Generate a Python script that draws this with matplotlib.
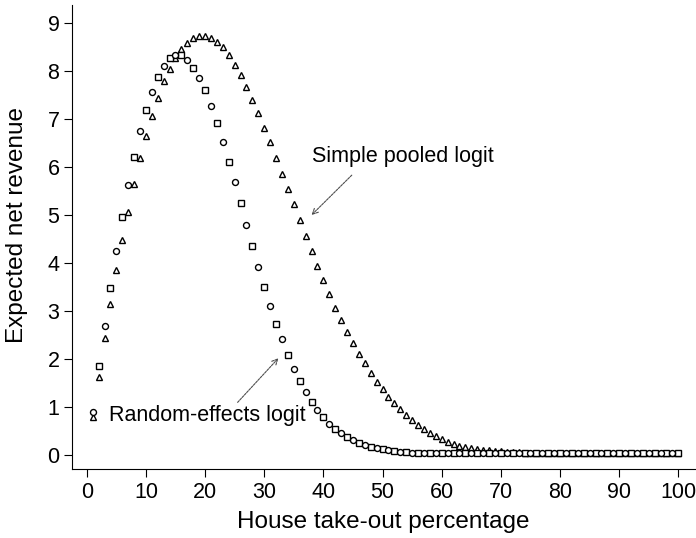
import matplotlib
matplotlib.use("Agg")
import matplotlib.pyplot as plt
import numpy as np

plt.rcParams["font.family"] = ["Liberation Sans", "DejaVu Sans"]

# house take-out percentage, 1..100
take_out = list(range(1, 101))

# random-effects logit
random_effects = [
    0.90, 1.85, 2.68, 3.49, 4.25, 4.95, 5.62, 6.20, 6.75, 7.19,
    7.57, 7.88, 8.10, 8.26, 8.34, 8.33, 8.22, 8.06, 7.86, 7.60,
    7.28, 6.92, 6.52, 6.10, 5.68, 5.24, 4.79, 4.35, 3.92, 3.50,
    3.11, 2.74, 2.41, 2.09, 1.80, 1.54, 1.31, 1.11, 0.94, 0.79,
    0.66, 0.55, 0.46, 0.38, 0.31, 0.26, 0.21, 0.18, 0.15, 0.12,
    0.10, 0.09, 0.07, 0.06, 0.05, 0.05, 0.04, 0.04, 0.04, 0.04,
    0.04, 0.04, 0.04, 0.04, 0.04, 0.04, 0.04, 0.04, 0.04, 0.04,
    0.04, 0.04, 0.04, 0.04, 0.04, 0.04, 0.04, 0.04, 0.04, 0.04,
    0.04, 0.04, 0.04, 0.04, 0.04, 0.04, 0.04, 0.04, 0.04, 0.04,
    0.04, 0.04, 0.04, 0.04, 0.04, 0.04, 0.04, 0.04, 0.04, 0.04,
]

# simple pooled logit
pooled = [
    0.80, 1.62, 2.43, 3.14, 3.85, 4.49, 5.07, 5.65, 6.18, 6.65,
    7.07, 7.44, 7.78, 8.05, 8.27, 8.45, 8.59, 8.68, 8.73, 8.73,
    8.69, 8.61, 8.49, 8.33, 8.13, 7.91, 7.66, 7.40, 7.12, 6.82,
    6.51, 6.19, 5.86, 5.54, 5.22, 4.89, 4.57, 4.26, 3.94, 3.64,
    3.35, 3.07, 2.81, 2.56, 2.33, 2.11, 1.91, 1.71, 1.53, 1.37,
    1.22, 1.08, 0.96, 0.84, 0.73, 0.63, 0.54, 0.46, 0.39, 0.33,
    0.28, 0.24, 0.20, 0.17, 0.15, 0.13, 0.11, 0.10, 0.09, 0.08,
    0.07, 0.06, 0.06, 0.05, 0.05, 0.04, 0.04, 0.04, 0.04, 0.04,
    0.04, 0.04, 0.04, 0.04, 0.04, 0.04, 0.04, 0.04, 0.04, 0.04,
    0.04, 0.04, 0.04, 0.04, 0.04, 0.04, 0.04, 0.04, 0.04, 0.04,
]

x_ticks = list(range(0, 101, 10))
y_ticks = list(range(0, 10))

fig = plt.figure(figsize=(6.96, 5.38), dpi=100)
ax = fig.add_axes([0.1034, 0.128, 0.895, 0.8625])

x = np.array(take_out)
re = np.array(random_effects)
pl = np.array(pooled)

mk = dict(linestyle="none", markerfacecolor="white", markeredgecolor="black",
          markersize=4.3, markeredgewidth=1.0)

# pooled logit: open triangles
ax.plot(x, pl, marker="^", **mk)
# random effects: squares and circles alternating
even = x % 2 == 0
ax.plot(x[even], re[even], marker="s", **mk)
ax.plot(x[~even], re[~even], marker="o", **mk)

ax.set_xlim(-2.5, 102.8)
ax.set_ylim(-0.29, 9.37)
ax.set_xticks(x_ticks)
ax.set_yticks(y_ticks)

for side in ["top", "right"]:
    ax.spines[side].set_visible(False)
for side in ["left", "bottom"]:
    ax.spines[side].set_linewidth(0.8)

ax.tick_params(axis="both", direction="out", length=5.5, width=0.8,
               labelsize=15.5, pad=3.5)

ax.set_xlabel("House take-out percentage", fontsize=17.5, labelpad=6)
ax.set_ylabel("Expected net revenue", fontsize=17.5)
ax.yaxis.set_label_coords(-0.071, 0.526)

arrow = dict(arrowstyle="->", color="0.3", lw=0.8, linestyle=(0, (2, 1)),
             shrinkA=0, shrinkB=0)
ax.annotate("", xy=(38.0, 5.0), xytext=(44.8, 5.83), arrowprops=arrow)
ax.text(38.0, 6.1, "Simple pooled logit", fontsize=15.5, ha="left", va="baseline")

ax.annotate("", xy=(32.4, 2.02), xytext=(25.5, 1.10), arrowprops=arrow)
ax.text(3.7, 0.71, "Random-effects logit", fontsize=15.5, ha="left", va="baseline")

fig.savefig("out.png", dpi=100)
